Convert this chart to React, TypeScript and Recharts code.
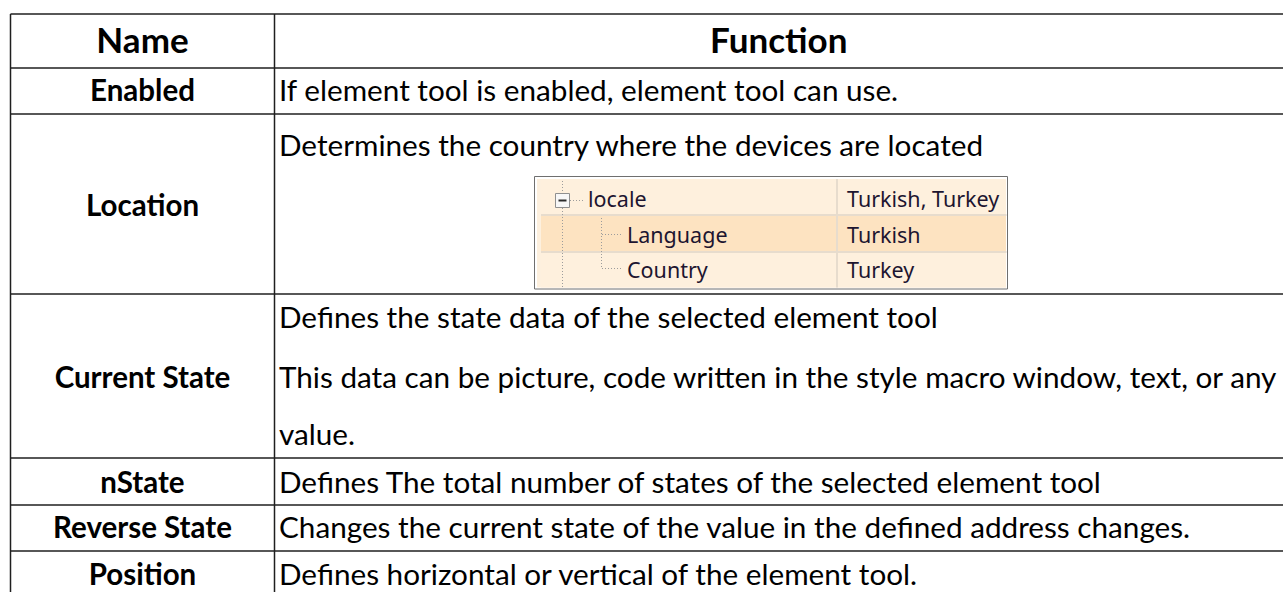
import React from 'react';
import { Surface, Layer, Text, Rectangle } from 'recharts';

// ---------- data (table content) ----------
const headers = ['Name', 'Function'];
const rowNames = ['Enabled', 'Location', 'Current State', 'nState', 'Reverse State', 'Position'];
const rowFunctions: string[][] = [
  ['If element tool is enabled, element tool can use.'],
  ['Determines the country where the devices are located'],
  [
    'Defines the state data of the selected element tool',
    'This data can be picture, code written in the style macro window, text, or any',
    'value.',
  ],
  ['Defines The total number of states of the selected element tool'],
  ['Changes the current state of the value in the defined address changes.'],
  ['Defines horizontal or vertical of the element tool.'],
];
const insetKeys = ['locale', 'Language', 'Country'];
const insetValues = ['Turkish, Turkey', 'Turkish', 'Turkey'];

// ---------- layout ----------
const W = 1283;
const H = 592;
const LEFT = 10.5;
const DIV = 274.5;
const ROW_EDGES = [14, 68, 114, 294, 458, 505, 551, 604];
const NAME_BASELINES = [101, 216, 388, 493, 538, 585];
const FUNC_BASELINES = [[101], [156], [328, 388, 445], [493], [538], [585]];
const HEADER_BASELINE = 53;
const FUNC_X = 279;

const BODY_FONT = 'Lato, "Noto Sans", sans-serif';
const INSET_FONT = '"Noto Sans", "Open Sans", sans-serif';
const LINE = '#1f1f1f';

// inset geometry
const IN = { x: 534.5, y: 176.5, w: 473, h: 112.5 };
const IN_ROWS = [
  { y0: 179, y1: 214, base: 207, indent: 588 },
  { y0: 216, y1: 251, base: 243, indent: 627 },
  { y0: 253, y1: 287.5, base: 278, indent: 627 },
];
const IN_COL = 837;
const IN_VAL_X = 847;

function Inset() {
  const dot = { stroke: '#9c9c9c', strokeWidth: 1, strokeDasharray: '1 2' };
  return (
    <Layer>
      <Rectangle x={IN.x} y={IN.y} width={IN.w} height={IN.h} fill="#ffffff" stroke="#6f6f6f" strokeWidth={1} />
      <Rectangle x={IN.x + 2.5} y={IN.y + 2.5} width={IN.w - 4} height={IN.h - 4} fill="#fdf0de" stroke="none" />
      {IN_ROWS.map((r, i) => (
        <Rectangle
          key={`r${i}`}
          x={541}
          y={r.y0}
          width={IN.x + IN.w - 1.5 - 541}
          height={r.y1 - r.y0}
          fill={i === 1 ? '#fde3c1' : '#fef0dd'}
          stroke="none"
        />
      ))}
      <line x1={541} x2={IN.x + IN.w - 1} y1={215} y2={215} stroke="#e7dccd" strokeWidth={2} />
      <line x1={541} x2={IN.x + IN.w - 1} y1={252} y2={252} stroke="#e7dccd" strokeWidth={2} />
      <line x1={IN_COL} x2={IN_COL} y1={179} y2={287.5} stroke="#e7dccd" strokeWidth={2} />
      {/* tree lines */}
      <line x1={562.5} x2={562.5} y1={181} y2={193} {...dot} />
      <line x1={562.5} x2={562.5} y1={208} y2={288} {...dot} />
      <line x1={570} x2={585} y1={200.5} y2={200.5} {...dot} />
      <line x1={601.5} x2={601.5} y1={218} y2={268.5} {...dot} />
      <line x1={602} x2={621} y1={234.5} y2={234.5} {...dot} />
      <line x1={602} x2={621} y1={268.5} y2={268.5} {...dot} />
      <Rectangle x={555.5} y={193.5} width={14} height={14} fill="#f7f7f7" stroke="#8f8f8f" strokeWidth={1} />
      <line x1={558.5} x2={566.5} y1={200.5} y2={200.5} stroke="#2b2b2b" strokeWidth={2} />
      {IN_ROWS.map((r, i) => (
        <Text
          key={`k${i}`}
          x={r.indent}
          y={r.base}
          verticalAnchor="end"
          fontSize={21.5}
          fontFamily={INSET_FONT}
          fill="#1d1530"
        >
          {insetKeys[i]}
        </Text>
      ))}
      {IN_ROWS.map((r, i) => (
        <Text
          key={`v${i}`}
          x={IN_VAL_X}
          y={r.base}
          verticalAnchor="end"
          fontSize={21.5}
          fontFamily={INSET_FONT}
          fill="#1d1530"
        >
          {insetValues[i]}
        </Text>
      ))}
    </Layer>
  );
}

export default function App() {
  const nameCx = (LEFT + DIV) / 2;
  const funcCx = (DIV + W) / 2;
  return (
    <div style={{ position: 'absolute', left: 0, top: 0, width: W, height: H, background: '#ffffff' }}>
      <Surface width={W} height={H} viewBox={{ x: 0, y: 0, width: W, height: H }}>
        <Rectangle x={0} y={0} width={W} height={H} fill="#ffffff" />
        {/* header */}
        <Text x={nameCx} y={HEADER_BASELINE} textAnchor="middle" verticalAnchor="end" fontSize={35} fontWeight={700} fontFamily={BODY_FONT} fill="#000">
          {headers[0]}
        </Text>
        <Text x={funcCx} y={HEADER_BASELINE} textAnchor="middle" verticalAnchor="end" fontSize={35} fontWeight={700} fontFamily={BODY_FONT} fill="#000">
          {headers[1]}
        </Text>
        {/* rows */}
        {rowNames.map((name, i) => (
          <Layer key={name}>
            <Text x={nameCx} y={NAME_BASELINES[i]} textAnchor="middle" verticalAnchor="end" fontSize={29.5} fontWeight={700} fontFamily={BODY_FONT} fill="#000">
              {name}
            </Text>
            {rowFunctions[i].map((t, j) => (
              <Text key={j} x={FUNC_X} y={FUNC_BASELINES[i][j]} verticalAnchor="end" fontSize={29.7} fontFamily={BODY_FONT} fill="#000">
                {t}
              </Text>
            ))}
          </Layer>
        ))}
        <Inset />
        {/* grid lines */}
        {ROW_EDGES.map((y, i) => (
          <line key={`h${i}`} x1={LEFT} x2={W} y1={y} y2={y} stroke={LINE} strokeWidth={1.5} />
        ))}
        <line x1={LEFT} x2={LEFT} y1={ROW_EDGES[0]} y2={H} stroke={LINE} strokeWidth={1.5} />
        <line x1={DIV} x2={DIV} y1={ROW_EDGES[0]} y2={H} stroke={LINE} strokeWidth={1.5} />
      </Surface>
    </div>
  );
}
